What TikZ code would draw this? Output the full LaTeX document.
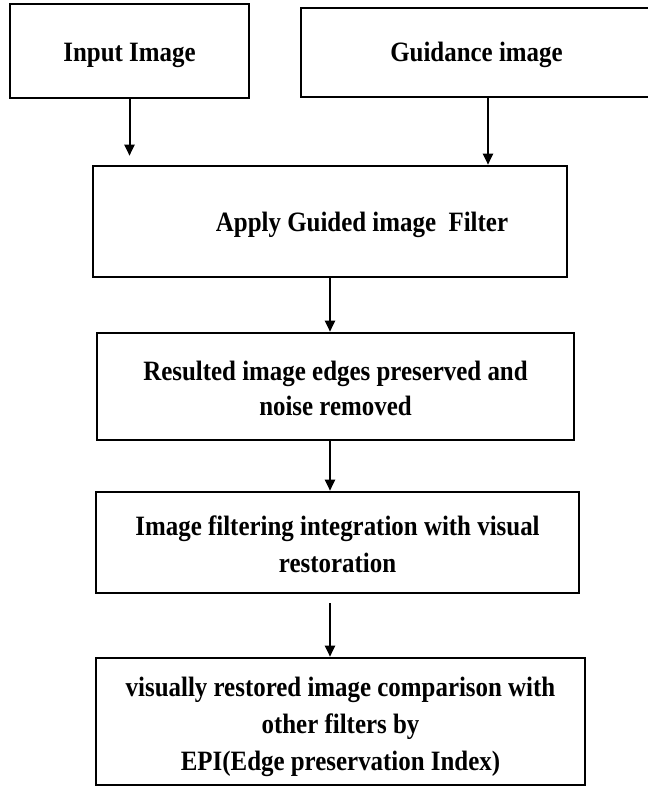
\documentclass[tikz,border=0pt]{standalone}
\usepackage{fontspec}
\setmainfont{Liberation Serif}[FakeStretch=0.89]
\usetikzlibrary{arrows.meta}
\begin{document}
\begin{tikzpicture}[x=1pt,y=-1pt,
  box/.style={draw=black, line width=2.6pt, fill=white, inner sep=0pt,
    align=center, font=\bfseries\fontsize{28}{37}\selectfont,
    text height=28pt, text depth=6pt},
  arr/.style={draw=black, line width=2pt, -{Triangle[length=11pt,width=10pt]}}]
\useasboundingbox[fill=white] (0,0) rectangle (647,786);

% input boxes
\node[box, minimum width=239pt, minimum height=94pt] (b1) at (129.5,51) {Input Image};
\node[box, minimum width=351pt, minimum height=89pt, text height=25pt] (b2) at (476.5,52.5) {Guidance image};

% processing chain (for multi-line text the text height counts from the last line)
\node[box, minimum width=474pt, minimum height=111pt, text height=27pt] (b3) at (330,221.5)
  {\hspace*{64pt}Apply Guided image\ \ Filter};
\node[box, minimum width=477pt, minimum height=107pt, text height=63pt,
  font=\bfseries\fontsize{28}{35}\selectfont] (b4) at (335.5,386.5)
  {Resulted image edges preserved and\\noise removed};
\node[box, minimum width=483pt, minimum height=101pt, text height=65pt] (b5) at (337.5,542.5)
  {Image filtering integration with visual\\restoration};
\node[box, minimum width=489pt, minimum height=127pt, text height=103pt] (b6) at (340.5,721.5)
  {visually restored image comparison with\\other filters by\\EPI(Edge preservation Index)};

% connectors
\path (b2.south) ++(11.5,0) coordinate (gtop);
\draw[arr, shorten >=9pt] (b1.south) -- (b1.south |- b3.north);
\draw[arr] (gtop) -- (gtop |- b3.north);
\draw[arr] (b3.south) -- (b3.south |- b4.north);
\draw[arr] (b3.south |- b4.south) -- (b3.south |- b5.north);
\draw[arr, shorten <=9pt] (b3.south |- b5.south) -- (b3.south |- b6.north);
\end{tikzpicture}
\end{document}
